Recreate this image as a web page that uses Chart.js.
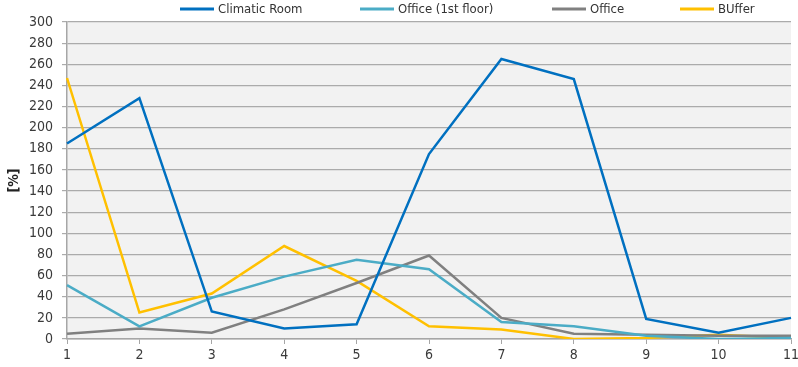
<!DOCTYPE html>
<html>
<head>
<meta charset="utf-8">
<script src="https://cdn.jsdelivr.net/npm/chart.js@4/dist/chart.umd.min.js"></script>
<style>
  html, body { margin: 0; padding: 0; background: #fff; }
  #wrap { width: 798px; height: 367px; position: relative; }
</style>
</head>
<body>
<div id="wrap"><canvas id="c" width="798" height="367"></canvas></div>
<script>
const categories = ['1', '2', '3', '4', '5', '6', '7', '8', '9', '10', '11'];
const climaticRoom = [185, 228, 26, 10, 14, 175, 265, 246, 19, 6, 20];
const officeFirstFloor = [51, 12, 39, 59, 75, 66, 16, 12, 3, 0, 1];
const office = [5, 10, 6, 28, 53, 79, 20, 5, 4, 3, 3];
const buffer = [247, 25, 43, 88, 55, 12, 9, 0, 1, 4, 1];
const seriesNames = ['Climatic Room', 'Office (1st floor)', 'Office', 'BUffer'];
const yTicks = [0, 20, 40, 60, 80, 100, 120, 140, 160, 180, 200, 220, 240, 260, 280, 300];

const FONT = '"DejaVu Sans Condensed", "Liberation Sans Narrow", sans-serif';
const colors = ['#0070c0', '#4bacc6', '#808080', '#ffc000'];
const values = [climaticRoom, officeFirstFloor, office, buffer];

// gray plot background
const plotBg = {
  id: 'plotBg',
  beforeDraw(chart) {
    const { ctx, chartArea: a } = chart;
    ctx.save();
    ctx.fillStyle = '#f2f2f2';
    ctx.fillRect(a.left, a.top, a.right - a.left, a.bottom - a.top);
    ctx.restore();
  }
};

// horizontal legend row above the plot
const topLegend = {
  id: 'topLegend',
  afterDraw(chart) {
    const ctx = chart.ctx;
    const starts = [180, 360, 552, 680];
    const y = 9;
    ctx.save();
    ctx.font = '13px ' + FONT;
    ctx.textBaseline = 'middle';
    ctx.textAlign = 'left';
    chart.data.datasets.forEach((ds, i) => {
      const x = starts[i];
      ctx.strokeStyle = ds.borderColor;
      ctx.lineWidth = 3;
      ctx.beginPath();
      ctx.moveTo(x, y);
      ctx.lineTo(x + 34, y);
      ctx.stroke();
      ctx.fillStyle = '#333';
      ctx.fillText(ds.label, x + 38, y + 1);
    });
    ctx.restore();
  }
};

new Chart(document.getElementById('c'), {
  type: 'line',
  data: {
    labels: categories,
    datasets: seriesNames.map((name, i) => ({
      label: name,
      data: values[i],
      borderColor: colors[i],
      backgroundColor: colors[i],
      borderWidth: 2.5,
      pointRadius: 0,
      tension: 0,
      fill: false
    }))
  },
  options: {
    responsive: false,
    animation: false,
    layout: { padding: { top: 22, right: 7, left: 0, bottom: 0 } },
    plugins: {
      legend: { display: false },
      tooltip: { enabled: false }
    },
    scales: {
      x: {
        type: 'category',
        offset: false,
        grid: {
          drawOnChartArea: false,
          drawTicks: true,
          tickLength: 5,
          color: '#a6a6a6'
        },
        border: { color: '#a6a6a6', width: 1.5 },
        ticks: {
          color: '#3a3a3a',
          font: { family: FONT, size: 14 },
          padding: 3,
          maxRotation: 0,
          autoSkip: false
        },
        afterFit(scale) {
          scale.height = 28;
          scale.paddingRight = 0;
          scale.paddingLeft = 0;
        }
      },
      y: {
        min: 0,
        max: 300,
        afterBuildTicks(scale) { scale.ticks = yTicks.map(v => ({ value: v })); },
        grid: {
          color: '#ababab',
          lineWidth: 1.2,
          tickLength: 5
        },
        border: { color: '#a6a6a6', width: 1.5 },
        ticks: {
          color: '#3a3a3a',
          font: { family: FONT, size: 14 },
          padding: 9
        },
        title: {
          display: true,
          text: '[%]',
          color: '#222',
          font: { family: FONT, size: 14, weight: 'bold' },
          padding: { top: 6, bottom: 0 }
        },
        afterFit(scale) { scale.width = 67; }
      }
    }
  },
  plugins: [plotBg, topLegend]
});
</script>
</body>
</html>
